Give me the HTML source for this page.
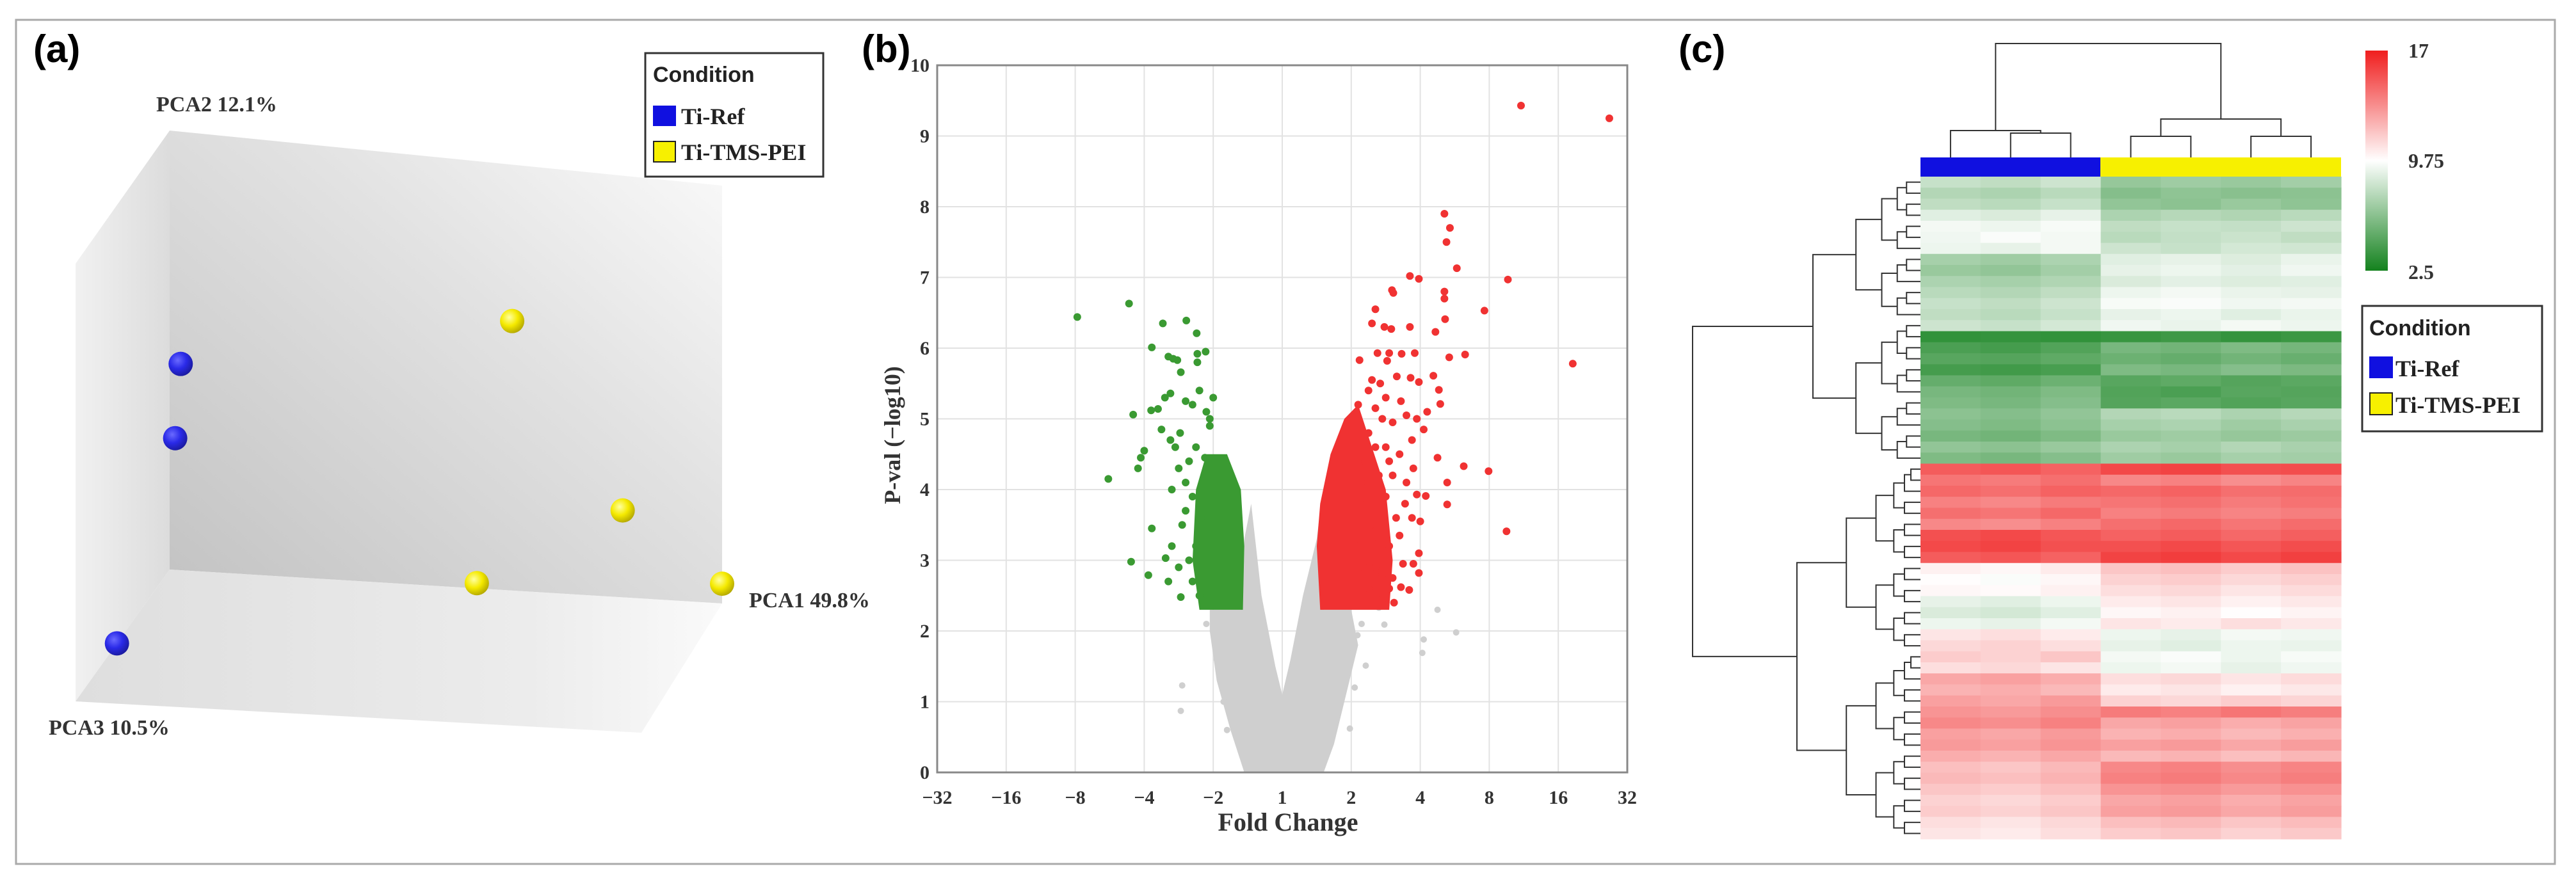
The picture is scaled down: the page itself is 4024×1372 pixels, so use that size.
<!DOCTYPE html>
<html><head><meta charset="utf-8"><style>
html,body{margin:0;padding:0;background:#fff;}
svg{display:block;}
.sans{font-family:"Liberation Sans",sans-serif;font-weight:bold;}
.serif{font-family:"Liberation Serif",serif;font-weight:bold;}
</style></head><body>
<svg id="fig" xmlns="http://www.w3.org/2000/svg" width="4024" height="1372" viewBox="0 0 4024 1372">
<defs>
<linearGradient id="gBack" x1="0" y1="1" x2="1" y2="0"><stop offset="0" stop-color="#c2c2c2"/><stop offset="0.6" stop-color="#e2e2e2"/><stop offset="1" stop-color="#fbfbfb"/></linearGradient>
<linearGradient id="gLeft" x1="0" y1="0" x2="1" y2="0"><stop offset="0" stop-color="#f1f1f1"/><stop offset="1" stop-color="#dcdcdc"/></linearGradient>
<linearGradient id="gFloor" x1="0" y1="0" x2="1" y2="0"><stop offset="0" stop-color="#dedede"/><stop offset="0.7" stop-color="#ececec"/><stop offset="1" stop-color="#fafafa"/></linearGradient>
<radialGradient id="gBlue" cx="0.38" cy="0.35" r="0.7"><stop offset="0" stop-color="#6a6aff"/><stop offset="0.5" stop-color="#2a2ae8"/><stop offset="1" stop-color="#1a1a9a"/></radialGradient>
<radialGradient id="gYel" cx="0.38" cy="0.35" r="0.7"><stop offset="0" stop-color="#ffffa0"/><stop offset="0.5" stop-color="#f5ea00"/><stop offset="1" stop-color="#b0a400"/></radialGradient>
<linearGradient id="gScale" x1="0" y1="0" x2="0" y2="1"><stop offset="0" stop-color="#f01e1e"/><stop offset="0.5" stop-color="#ffffff"/><stop offset="1" stop-color="#14821e"/></linearGradient>
</defs>
<rect x="25" y="31" width="3966" height="1319" fill="#fff" stroke="#aaa" stroke-width="3"/>

<!-- Panel A -->
<g id="panelA">
<text x="52" y="97" class="sans" font-size="60">(a)</text>
<polygon points="265,204 1128,290 1128,943 265,890" fill="url(#gBack)"/>
<polygon points="118,412 265,204 265,890 118,1096" fill="url(#gLeft)"/>
<polygon points="118,1096 265,890 1128,943 1002,1145" fill="url(#gFloor)"/>
<text x="244" y="174" class="serif" font-size="34" fill="#333">PCA2 12.1%</text>
<text x="1170" y="949" class="serif" font-size="34" fill="#333">PCA1 49.8%</text>
<text x="76" y="1148" class="serif" font-size="34" fill="#333">PCA3 10.5%</text>
<g id="pcaPts"></g>
<g>
<rect x="1008" y="83" width="278" height="193" fill="#fff" stroke="#333" stroke-width="3"/>
<text x="1020" y="128" class="sans" font-size="34" fill="#222">Condition</text>
<rect x="1020" y="165" width="36" height="32" fill="#1010e0"/>
<text x="1064" y="194" class="serif" font-size="36" fill="#222">Ti-Ref</text>
<rect x="1021" y="221" width="34" height="32" fill="#f7f000" stroke="#222" stroke-width="2"/>
<text x="1064" y="250" class="serif" font-size="36" fill="#222">Ti-TMS-PEI</text>
</g>
</g>

<!-- Panel B -->
<g id="panelB">
<text x="1346" y="97" class="sans" font-size="60">(b)</text>
<g id="vGrid"></g>
<g id="vGrey"></g>
<g id="vGreen"></g>
<g id="vRed"></g>
<rect x="1464" y="102" width="1078" height="1105" fill="none" stroke="#888" stroke-width="3"/>
<g id="vTicks"></g>
<text transform="translate(1406,680) rotate(-90)" text-anchor="middle" class="serif" font-size="36" fill="#333">P-val (−log10)</text>
<text x="2012" y="1298" text-anchor="middle" class="serif" font-size="40" fill="#333">Fold Change</text>
</g>

<!-- Panel C -->
<g id="panelC">
<text x="2622" y="97" class="sans" font-size="60">(c)</text>
<g id="hCells"></g>
<g id="hDendro" fill="none" stroke="#333" stroke-width="2"></g>
<rect x="3000" y="246" width="281" height="30" fill="#1010e0"/>
<rect x="3281" y="246" width="376" height="30" fill="#f7f000"/>
<rect x="3695" y="79" width="35" height="344" fill="url(#gScale)"/>
<text x="3762" y="90" class="serif" font-size="32" fill="#333">17</text>
<text x="3762" y="262" class="serif" font-size="32" fill="#333">9.75</text>
<text x="3762" y="436" class="serif" font-size="32" fill="#333">2.5</text>
<g>
<rect x="3690" y="478" width="281" height="196" fill="#fff" stroke="#333" stroke-width="3"/>
<text x="3701" y="524" class="sans" font-size="34" fill="#222">Condition</text>
<rect x="3701" y="557" width="37" height="34" fill="#1010e0"/>
<text x="3742" y="588" class="serif" font-size="36" fill="#222">Ti-Ref</text>
<rect x="3702" y="614" width="35" height="34" fill="#f7f000" stroke="#222" stroke-width="2"/>
<text x="3742" y="645" class="serif" font-size="36" fill="#222">Ti-TMS-PEI</text>
</g>
</g>
</svg>
<script>
const NS = "http://www.w3.org/2000/svg";
// ---------- PCA data (unit coordinates along PC1, PC2, PC3) ----------
const pcaGroup = ["ref","ref","ref","tms","tms","tms","tms"];
const pcaPC1 = [0.02, 0.01, 0.0, 0.62, 0.82, 0.556, 1.0];
const pcaPC2 = [0.47, 0.30, 0.0, 0.614, 0.198, 0.012, 0.045];
const pcaPC3 = [0.0, 0.0, 0.56, 0.0, 0.0, 0.0, 0.0];
// ---------- Volcano data (log2 fold change, -log10 p) ----------
const xTickLabels = ["−32","−16","−8","−4","−2","1","2","4","8","16","32"];
const yTickLabels = ["0","1","2","3","4","5","6","7","8","9","10"];
const redFc = [3.46,4.74,2.35,2.43,2.38,2.53,1.85,1.98,3.27,1.59,1.61,2.35,2.35,1.35,2.93,2.36,1.30,1.48,1.58,1.85,2.22,4.21,2.42,2.65,1.92,1.38,1.55,1.73,1.52,1.12,2.19,2.27,2.29,1.98,1.86,1.66,1.42,1.25,1.3,1.5,1.72,1.95,2.05,1.88,1.6,1.45,1.8,2.1,1.35,2.63,2.99,2.25,2.39,2.39,3.25,1.98,1.84,2.08,1.95,1.88,1.7,1.98,1.75,1.6,1.55,1.72,1.45,1.65,1.5,1.4,1.55,1.7,1.35,1.25,1.3,1.28,1.4,1.8,1.6,1.9,1.45,1.35,1.25,1.22,1.2,1.5,1.55,1.78,1.62,2.0,1.9,1.1,1.15,1.12,1.18];
const redP = [9.43,9.25,7.9,7.7,7.5,7.13,7.02,6.98,6.97,6.82,6.78,6.8,6.7,6.55,6.53,6.41,6.35,6.3,6.27,6.3,6.23,5.78,5.87,5.91,5.93,5.93,5.93,5.92,5.82,5.83,5.61,5.41,5.21,5.52,5.58,5.6,5.5,5.4,5.55,5.3,5.25,5.0,4.85,4.7,4.95,5.0,5.05,5.1,5.15,4.33,4.26,4.45,4.1,3.79,3.41,2.82,2.58,3.91,3.93,3.6,3.35,3.1,2.95,2.75,2.6,2.62,2.8,3.6,3.9,4.2,4.4,4.5,4.6,4.8,3.1,3.5,3.3,4.1,4.2,4.3,2.45,2.9,2.6,3.8,4.4,4.6,3.2,3.8,2.4,3.55,2.95,5.2,4.1,3.3,2.9];
const redDenseFc = [0.55,0.5,0.55,0.7,0.9,1.1,1.3,1.5,1.6,1.55];
const redDenseP = [2.3,3.2,3.8,4.5,5.0,5.2,4.6,4.0,3.0,2.3];
const greenFc = [-2.97,-2.22,-1.73,-1.39,-1.24,-1.89,-1.65,-1.58,-1.52,-1.11,-1.23,-1.23,-1.47,-1.62,-1.8,-1.9,-2.16,-2.0,-2.09,-2.05,-2.52,-1.89,-2.19,-1.94,-1.47,-1.69,-1.62,-1.55,-1.48,-1.3,-1.2,-1.1,-1.05,-1.35,-1.6,-1.5,-1.4,-1.3,-1.25,-1.35,-1.45,-1.6,-1.3,-1.2,-1.25,-1.12,-1.18,-1.7,-1.4,-1.75,-1.65,-1.5,-1.4,-1.05,-1.0];
const greenP = [6.44,6.63,6.35,6.39,6.21,6.01,5.88,5.85,5.83,5.95,5.92,5.8,5.66,5.36,5.14,5.12,5.06,4.55,4.3,4.45,4.15,3.45,2.98,2.79,2.48,3.03,4.7,4.6,4.8,5.2,5.4,5.1,4.9,4.4,4.0,4.3,3.7,3.9,3.2,3.0,3.5,3.2,2.7,2.5,4.6,4.45,3.6,5.3,5.25,4.85,2.7,2.9,4.1,5.0,5.3];
const greenDenseFc = [-1.2,-1.3,-1.25,-1.1,-0.8,-0.6,-0.55,-0.57];
const greenDenseP = [2.3,3.0,4.0,4.5,4.5,4.0,3.2,2.3];
const greyEnvFc = [-0.55,-0.75,-0.95,-1.05,-1.05,-0.6,-0.55,-0.45,-0.3,-0.1,0,0.12,0.3,0.5,0.55,0.6,0.6,1.0,1.1,0.9,0.75,0.6];
const greyEnvP = [0,0.6,1.3,2.0,2.3,2.3,3.3,3.8,2.5,1.5,1.1,1.6,2.5,3.3,3.7,3.2,2.3,2.3,1.8,1.0,0.4,0];
const greyFc = [-1.45,-1.47,2.25,2.05,2.03,2.52,1.48,1.4,1.21,1.09,0.98,-0.8,-0.85,-1.1,-0.95,1.05,0.95,1.15];
const greyP = [1.23,0.87,2.3,1.88,1.69,1.98,2.09,2.33,1.51,1.94,0.62,0.6,1.0,2.1,1.6,1.2,1.7,2.1];
// ---------- Heatmap data (rows x 7 samples: 3 Ti-Ref, 4 Ti-TMS-PEI) ----------
const sampleGroups = ["Ti-Ref","Ti-Ref","Ti-Ref","Ti-TMS-PEI","Ti-TMS-PEI","Ti-TMS-PEI","Ti-TMS-PEI"];
const heatValues = [
[8.0,7.8,8.2,6.5,6.8,6.6,6.9],[7.4,7.2,7.6,6.0,6.3,6.1,6.2],[7.8,7.6,8.0,6.4,6.2,6.6,6.3],[8.8,8.6,9.0,7.2,7.5,7.3,7.6],
[9.4,9.2,9.5,7.8,8.0,7.9,8.2],[9.3,9.6,9.4,7.6,7.9,8.1,7.8],[9.2,9.0,9.4,8.2,8.0,8.4,8.3],[7.0,6.8,7.2,8.8,9.0,8.7,9.1],
[6.6,6.4,6.9,9.0,9.2,8.9,9.3],[7.2,7.0,7.3,8.6,8.9,8.7,8.8],[7.6,7.4,7.8,9.2,9.4,9.1,9.0],[8.0,7.8,8.2,9.5,9.6,9.3,9.4],
[7.8,7.6,8.0,9.0,9.2,8.8,9.1],[8.2,8.0,8.4,9.3,9.1,9.4,9.2],[3.4,3.5,3.4,3.6,3.8,3.5,3.7],[4.2,4.0,4.4,5.6,5.4,5.8,5.5],
[4.6,4.5,4.8,5.2,5.0,5.4,5.1],[4.0,3.9,4.1,5.8,5.6,6.0,5.7],[5.0,4.8,5.2,4.6,4.8,4.5,4.7],[5.6,5.4,5.8,4.4,4.2,4.6,4.5],
[5.8,5.6,6.0,4.5,4.7,4.4,4.6],[6.2,6.0,6.4,7.4,7.6,7.2,7.5],[6.0,5.8,6.2,7.0,7.2,6.8,7.1],[5.6,5.4,5.8,6.6,6.8,6.5,6.7],
[6.4,6.2,6.6,7.2,7.0,7.4,7.1],[5.8,5.6,6.0,6.8,6.6,7.0,6.9],[15.0,15.2,14.8,15.6,15.8,15.4,15.5],[14.2,14.0,14.4,13.6,13.8,13.4,13.7],
[14.6,14.4,14.8,14.6,14.8,14.4,14.5],[13.8,13.6,14.0,14.2,14.4,14.0,14.3],[14.4,14.2,14.6,13.8,14.0,13.7,13.9],[13.6,13.4,13.8,14.4,14.6,14.2,14.5],
[15.4,15.6,15.2,14.8,15.0,14.6,14.9],[15.6,15.8,15.4,15.4,15.6,15.2,15.5],[15.0,15.2,14.8,15.8,16.0,15.6,15.9],[10.2,10.0,10.4,11.6,11.8,11.4,11.7],
[9.8,9.6,10.0,11.2,11.4,11.0,11.3],[10.0,9.9,10.2,10.8,11.0,10.6,10.9],[9.0,8.8,9.2,10.4,10.6,10.2,10.5],[8.6,8.4,8.8,10.0,10.2,9.8,10.1],
[9.2,9.0,9.4,10.6,10.4,10.8,10.5],[10.6,10.8,10.4,9.2,9.0,9.4,9.3],[11.0,11.2,10.8,9.0,8.8,9.2,9.1],[11.4,11.2,11.6,9.4,9.6,9.2,9.5],
[10.8,11.0,10.6,9.2,9.4,9.0,9.3],[12.6,12.8,12.4,10.8,11.0,10.6,10.9],[12.2,12.4,12.0,10.4,10.6,10.2,10.5],[12.8,12.6,13.0,11.2,11.0,11.4,11.1],
[13.2,13.0,13.4,14.0,13.8,14.2,13.9],[13.6,13.4,13.8,12.6,12.8,12.4,12.7],[12.8,12.6,13.0,12.2,12.4,12.0,12.3],[13.0,12.8,13.2,12.8,13.0,12.6,12.9],
[12.4,12.2,12.6,12.0,12.2,11.8,12.1],[11.8,11.6,12.0,13.6,13.8,13.4,13.7],[12.0,11.8,12.2,13.8,14.0,13.6,13.9],[11.6,11.4,11.8,13.2,13.4,13.0,13.3],
[11.2,11.0,11.4,12.6,12.8,12.4,12.7],[11.4,11.2,11.6,12.8,13.0,12.6,12.9],[10.8,10.6,11.0,11.8,12.0,11.6,11.9],[10.6,10.4,10.8,11.4,11.6,11.2,11.5]];
const colorMin = 2.5, colorMid = 9.75, colorMax = 17;

function mk(tag, attrs, parent){const e=document.createElementNS(NS,tag);for(const k in attrs)e.setAttribute(k,attrs[k]);parent.appendChild(e);return e;}

// ---------- PCA ----------
(function(){
  const g=document.getElementById('pcaPts');
  const O=[265,890], A1=[863,53], A2=[0,-686], A3=[-147,206];
  const proj=(a,b,c)=>[O[0]+a*A1[0]+b*A2[0]+c*A3[0], O[1]+a*A1[1]+b*A2[1]+c*A3[1]];
  for(let i=0;i<pcaPC1.length;i++){
    const p=proj(pcaPC1[i],pcaPC2[i],pcaPC3[i]);
    const c=mk('circle',{cx:p[0],cy:p[1],r:19,fill:pcaGroup[i]==='ref'?'url(#gBlue)':'url(#gYel)'},g);
    
    
  }
})();

// ---------- Volcano ----------
const vx0=1464, vx1=2542, vy0=1207, vy1=102;
const sx = fc => vx0 + (fc+5)/10*(vx1-vx0);
const sy = p => vy0 - p/10*(vy0-vy1);
(function(){
  const grid=document.getElementById('vGrid'), ticks=document.getElementById('vTicks');
  for(let i=0;i<xTickLabels.length;i++){
    const x=sx(i-5);
    const l=mk('line',{x1:x,x2:x,y1:vy1,y2:vy0,stroke:'#e2e2e2','stroke-width':2},grid);
    
    
    const t=mk('text',{x:x,y:1256,'text-anchor':'middle','class':'serif','font-size':30,fill:'#333'},ticks);
    t.textContent=xTickLabels[i];
    
    
  }
  for(let i=0;i<yTickLabels.length;i++){
    const y=sy(i);
    const l=mk('line',{x1:vx0,x2:vx1,y1:y,y2:y,stroke:'#e2e2e2','stroke-width':2},grid);
    
    
    const t=mk('text',{x:1452,y:y+10,'text-anchor':'end','class':'serif','font-size':30,fill:'#333'},ticks);
    t.textContent=yTickLabels[i];
    
    
  }
  const gGrey=document.getElementById('vGrey');
  const env=mk('polygon',{points:greyEnvFc.map((f,i)=>sx(f)+','+sy(greyEnvP[i])).join(' '),fill:'#cfcfcf'},gGrey);
  
  
  for(let i=0;i<greyFc.length;i++){
    const c=mk('circle',{cx:sx(greyFc[i]),cy:sy(greyP[i]),r:5,fill:'#cfcfcf'},gGrey);
    
    
  }
  const gG=document.getElementById('vGreen');
  const gd=mk('polygon',{points:greenDenseFc.map((f,i)=>sx(f)+','+sy(greenDenseP[i])).join(' '),fill:'#3a9a32'},gG);
  
  
  for(let i=0;i<greenFc.length;i++){
    const c=mk('circle',{cx:sx(greenFc[i]),cy:sy(greenP[i]),r:6,fill:'#3a9a32'},gG);
    
    
  }
  const gR=document.getElementById('vRed');
  const rd=mk('polygon',{points:redDenseFc.map((f,i)=>sx(f)+','+sy(redDenseP[i])).join(' '),fill:'#f03232'},gR);
  
  
  for(let i=0;i<redFc.length;i++){
    const c=mk('circle',{cx:sx(redFc[i]),cy:sy(redP[i]),r:6,fill:'#f03232'},gR);
    
    
  }
})();

// ---------- Heatmap ----------
const hx0=3000, hx1=3657, hy0=276, hy1=1311;
(function(){
  const nR=heatValues.length, nC=sampleGroups.length;
  const colW=(hx1-hx0)/nC, rowH=(hy1-hy0)/nR;
  const lerp=(a,b,t)=>Math.round(a+(b-a)*t);
  function col(v){
    if(v<=colorMid){const t=Math.min(1,(colorMid-v)/(colorMid-colorMin));return `rgb(${lerp(255,20,t)},${lerp(255,130,t)},${lerp(255,30,t)})`;}
    const t=Math.min(1,(v-colorMid)/(colorMax-colorMid));return `rgb(${lerp(255,240,t)},${lerp(255,30,t)},${lerp(255,30,t)})`;
  }
  const g=document.getElementById('hCells');
  for(let r=0;r<nR;r++)for(let c=0;c<nC;c++){
    const e=mk('rect',{x:hx0+c*colW,y:hy0+r*rowH,width:colW+0.6,height:rowH+0.6,fill:col(heatValues[r][c])},g);
    
    
  }
  // column dendrogram
  const d=document.getElementById('hDendro');
  const cx=i=>hx0+(i+0.5)*colW;
  const segs=[];
  const U=(x1,x2,yTop,yl,yr)=>segs.push(`M${x1},${yl} V${yTop} H${x2} V${yr}`);
  U(cx(1),cx(2),208,246,246); const b12=(cx(1)+cx(2))/2;
  U(cx(0),b12,204,246,208); const bB=(cx(0)+b12)/2;
  U(cx(3),cx(4),213,246,246); U(cx(5),cx(6),213,246,246);
  const y34=(cx(3)+cx(4))/2, y56=(cx(5)+cx(6))/2;
  U(y34,y56,186,213,213); const bY=(y34+y56)/2;
  U(bB,bY,68,204,186);
  const p=mk('path',{d:segs.join(' ')},d);
  
  
  // row dendrogram
  const rs=[];
  const ry=i=>hy0+(i+0.5)*rowH;
  function tree(a,b,x){
    if(a===b) return ry(a);
    const m=Math.floor((a+b)/2);
    const xc=x+(hx0-x)*0.4;
    const y1=tree(a,m,xc), y2=tree(m+1,b,xc);
    const xl=(a===m)?hx0:xc, xr=(m+1===b)?hx0:xc;
    rs.push(`M${xl},${y1} H${x} V${y2} H${xr}`);
    return (y1+y2)/2;
  }
  const yG=tree(0,25,2832), yR=tree(26,59,2807);
  rs.push(`M2832,${yG} H2644 V${yR} H2807`);
  const rp=mk('path',{d:rs.join(' ')},d);
  
  
})();
</script>
</body></html>
